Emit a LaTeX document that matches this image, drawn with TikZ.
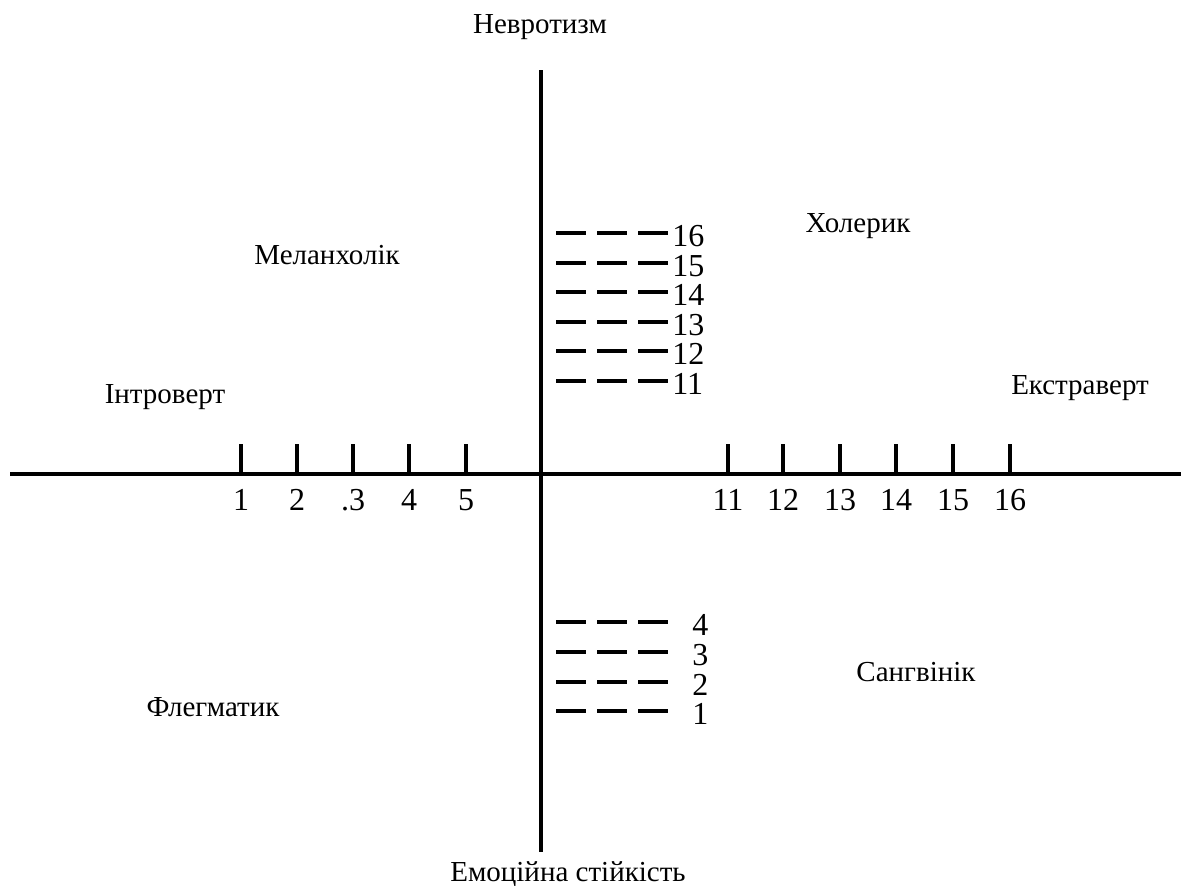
\documentclass[tikz,border=0pt]{standalone}
\usepackage{fontspec}
\setmainfont{Liberation Serif}
\usepackage{tikz}
\usetikzlibrary{positioning}
\tikzset{
  axisline/.style={line width=2pt},
  tickline/.style={line width=2pt},
  levelline/.style={line width=2pt,dash pattern=on 15pt off 5.5pt},
  scalelabel/.style={font=\fontsize{16}{19}\selectfont,inner sep=1pt},
  typelabel/.style={font=\fontsize{14.5}{17}\selectfont,inner sep=1pt,align=center}
}

\begin{document}
\begin{tikzpicture}[x=0.5pt,y=-0.5pt]
  \useasboundingbox (0,0) rectangle (1181,885);
  % axes
  \coordinate (axtop) at (541,70);
  \coordinate (axbot) at (541,852);
  \coordinate (axleft) at (10,474);
  \coordinate (axright) at (1181,474);
  \draw[axisline] (axtop) -- (axbot);
  \draw[axisline] (axleft) -- (axright);
  \node[typelabel] (neuro) at (540,27) {Невротизм};
  \node[typelabel] (stable) at (568,874) {Емоційна стійкість};
  \node[typelabel] (intro) at (165,397) {Інтроверт};
  \node[typelabel] (extra) at (1080,388) {Екстраверт};
  % temperaments
  \node[typelabel] (melan) at (327,255) {Меланхолік};
  \node[typelabel] (chol) at (858,226) {Холерик};
  \node[typelabel] (phleg) at (213,707) {Флегматик};
  \node[typelabel] (sang) at (916,672) {Сангвінік};
  % ticks on the horizontal axis
  \foreach \n/\xx/\txt in {1/241/1,2/297/2,3/353/.3,4/409/4,5/466/5,
      11/728/11,12/783/12,13/840/13,14/896/14,15/953/15,16/1010/16} {
    \coordinate (tb\n) at (\xx,474);
    \coordinate (tt\n) at (\xx,444);
    \draw[tickline] (tb\n) -- (tt\n);
    \node[scalelabel] (tl\n) at (\xx,500) {\txt};
  }
  % levels above
  \foreach \n/\yy in {16/233,15/263,14/292,13/322,12/351,11/381} {
    \coordinate (ls\n) at (556,\yy);
    \coordinate (le\n) at (668,\yy);
    \draw[levelline] (ls\n) -- (le\n);
    \node[scalelabel,anchor=west] (ll\n) at (670,\yy+3) {\n};
  }
  % levels below
  \foreach \n/\yy in {4/622,3/652,2/682,1/711} {
    \coordinate (bs\n) at (556,\yy);
    \coordinate (be\n) at (668,\yy);
    \draw[levelline] (bs\n) -- (be\n);
    \node[scalelabel,anchor=west] (bl\n) at (690,\yy+3) {\n};
  }
\end{tikzpicture}
\end{document}
